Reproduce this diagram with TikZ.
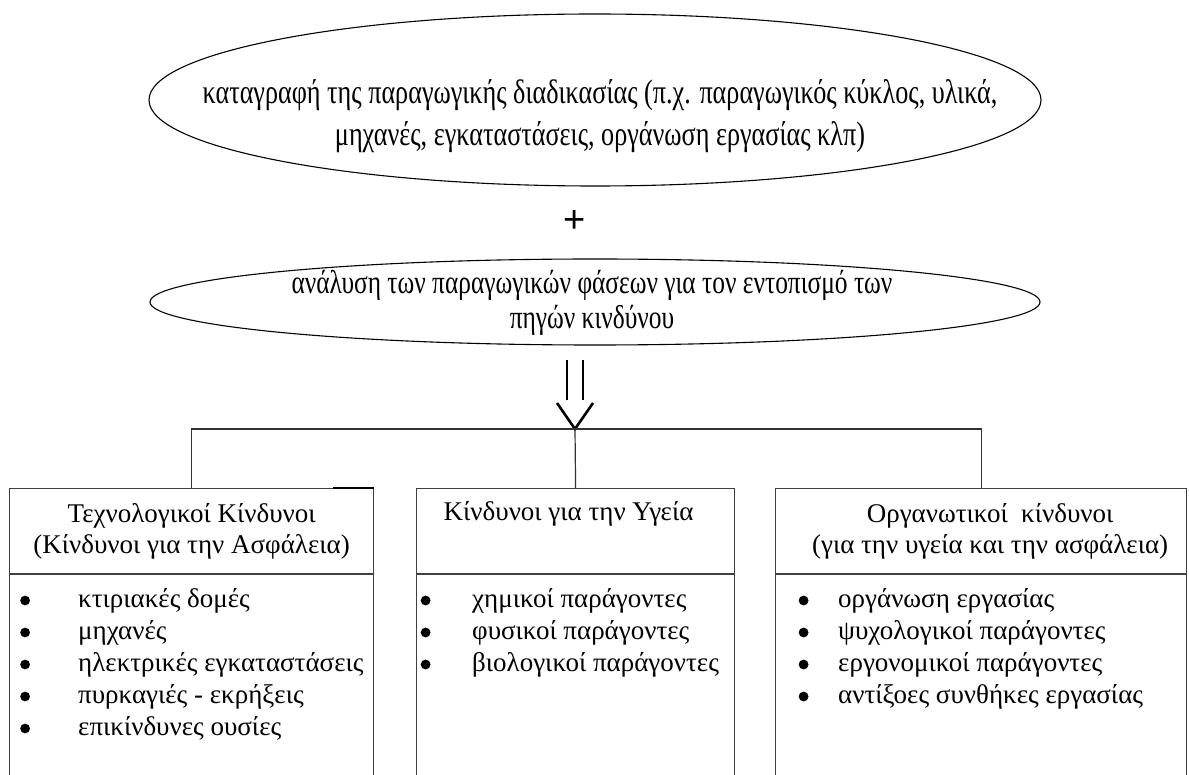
\documentclass[tikz,border=0pt]{standalone}
\usepackage{fontspec}
\setmainfont{Liberation Serif}
\newfontfamily\narrowserif[FakeStretch=0.77]{Liberation Serif}
\newfontfamily\plussans{Liberation Sans}
\usetikzlibrary{shapes.geometric,positioning,calc}
\tikzset{
  oval/.style={ellipse,draw,line width=1.1pt,inner sep=0pt},
  ovaltext/.style={align=center,inner sep=0pt,font=\narrowserif\fontsize{34}{42}\selectfont},
  headbox/.style={draw=black!75,line width=1.2pt,inner sep=0pt,minimum height=85pt,align=center,
    font=\fontsize{27}{31}\selectfont},
  listbox/.style={draw=black!75,line width=1.2pt,inner sep=0pt,minimum height=240pt},
  items/.style={inner sep=0pt,font=\fontsize{27}{32}\selectfont},
  branch/.style={draw=black!80,line width=1.2pt},
  shaft/.style={line width=2.6pt}
}
% round list bullet
\newcommand{\dotbullet}{\tikz[baseline=0pt]\fill (0pt,6.8pt) circle (4.9pt);}
\begin{document}
\begin{tikzpicture}[x=1pt,y=-1pt]
\useasboundingbox (0,0) rectangle (1189,775);
\clip (0,0) rectangle (1189,775);
% Top ellipses
\node[oval,minimum width=892pt,minimum height=172pt] (record) at (595,100) {};
\node[ovaltext] (recordtext) at (600,116) {καταγραφή της παραγωγικής διαδικασίας (π.χ. παραγωγικός κύκλος, υλικά,\\
  μηχανές, εγκαταστάσεις, οργάνωση εργασίας κλπ)};
\node[inner sep=0pt,font=\plussans\fontsize{38}{38}\selectfont] (plus) at (575,222) {+};
\node[oval,minimum width=890pt,minimum height=86pt] (analysis) at (595,302) {};
\node[ovaltext,font=\narrowserif\fontsize{33}{35}\selectfont] (analysistext) at (592,303)
  {ανάλυση των παραγωγικών φάσεων για τον εντοπισμό των\\ πηγών κινδύνου};
% Double arrow down to the branching point
\coordinate (split) at (575,429);
\draw[shaft] ($(split)+(-8,-69)$) -- ++(0,40);
\draw[shaft] ($(split)+(8,-69)$) -- ++(0,40);
\draw[shaft,line join=miter] ($(split)+(-18,-26)$) -- (split) -- ($(split)+(18,-26)$);
% Hazard boxes
\node[headbox,minimum width=364pt,anchor=north west] (tech) at (9,488)
  {Τεχνολογικοί Κίνδυνοι\\ (Κίνδυνοι για την Ασφάλεια)};
\node[listbox,minimum width=364pt,below=0pt of tech] (techlist) {};
\node[headbox,minimum width=318pt,anchor=north west] (health) at (416,488)
  {\hspace*{-14pt}Κίνδυνοι για την Υγεία\\ \strut};
\node[listbox,minimum width=318pt,below=0pt of health] (healthlist) {};
\node[headbox,minimum width=411pt,anchor=north west] (org) at (775,488)
  {\hspace*{18pt}Οργανωτικοί\ \ κίνδυνοι\\ \hspace*{18pt}(για την υγεία και την ασφάλεια)};
\node[listbox,minimum width=411pt,below=0pt of org] (orglist) {};
\draw[line width=2.4pt] ([xshift=-41pt]tech.north east) -- (tech.north east);
% Branches
\draw[branch] (tech.north) |- (split) -| (org.north);
\draw[branch] (split) -- (health.north);
% Item lists
\node[items,anchor=north west,below right=10.5pt and 11pt of techlist.north west] (techitems)
  {\begin{tabular}{@{}p{58pt}@{}l@{}}
   \dotbullet & κτιριακές δομές\\
   \dotbullet & μηχανές\\
   \dotbullet & ηλεκτρικές εγκαταστάσεις\\
   \dotbullet & πυρκαγιές - εκρήξεις\\
   \dotbullet & επικίνδυνες ουσίες
   \end{tabular}};
\node[items,anchor=north west,below right=10.5pt and 4.5pt of healthlist.north west] (healthitems)
  {\begin{tabular}{@{}p{51.5pt}@{}l@{}}
   \dotbullet & χημικοί παράγοντες\\
   \dotbullet & φυσικοί παράγοντες\\
   \dotbullet & βιολογικοί παράγοντες
   \end{tabular}};
\node[items,anchor=north west,below right=10.5pt and 23.5pt of orglist.north west] (orgitems)
  {\begin{tabular}{@{}p{39.5pt}@{}l@{}}
   \dotbullet & οργάνωση εργασίας\\
   \dotbullet & ψυχολογικοί παράγοντες\\
   \dotbullet & εργονομικοί παράγοντες\\
   \dotbullet & αντίξοες συνθήκες εργασίας
   \end{tabular}};
\end{tikzpicture}
\end{document}
